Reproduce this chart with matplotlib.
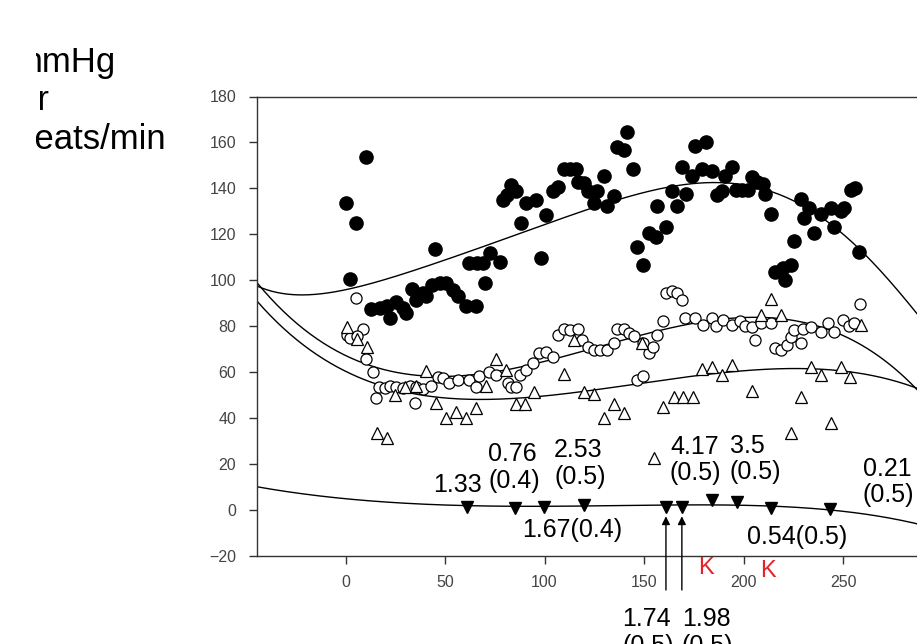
import numpy as np
import matplotlib.pyplot as plt
from matplotlib.transforms import Bbox

plt.rcParams['font.family'] = ['Liberation Sans', 'DejaVu Sans']

# systolic pressure, mmHg (filled circles)
sys_x = [0.3, 2.3, 5.3, 10.3, 13, 17.3, 20.6, 22.3, 25.6, 29, 30.6, 33.3, 35.6, 39,
         40.6, 43.3, 45, 47.3, 50.6, 54, 56.4, 60.6, 62, 65.6, 66, 69, 70, 72.5,
         77.5, 79, 81, 83, 85.6, 88, 90.6, 95.6, 98, 100.6, 104, 106.6, 110, 113,
         116, 117, 120, 121.7, 125, 126.6, 130, 131.6, 135, 136.6, 140, 141.6,
         144.5, 146.6, 149.6, 152.5, 155.8, 156.6, 160.8, 164, 166.6, 169, 171,
         174, 175.8, 179, 181, 184, 186.6, 189, 190.6, 194, 196, 199, 202, 204,
         207, 210, 211, 214, 215.6, 220, 221, 224, 225.6, 229, 230.6, 233, 235.6,
         239, 244, 245.6, 249, 250.6, 254, 256, 258]
sys_y = [133.5, 100.4, 125, 153.6, 87.4, 87.8, 88.6, 83.5, 90.7, 87.8, 85.7, 96, 91.4,
         94.4, 93, 98, 113.5, 98.7, 98.7, 95.8, 93, 88.6, 107.5, 88.6, 107.5, 107.5,
         98.7, 111.7, 108, 135, 137, 141.6, 138.7, 125, 133.5, 135, 109.5, 128.4,
         138.7, 140.5, 148.5, 148.5, 148.5, 143, 142.5, 138.7, 133.5, 138.7, 145.5,
         132.4, 136.5, 158.2, 156.5, 164.5, 148.5, 114.4, 106.7, 120.5, 119, 132.4,
         123.4, 138.7, 132.4, 149.5, 137.5, 145.5, 158.5, 148.5, 160.4, 147.4, 137,
         138.7, 145.5, 149.5, 139.4, 139.4, 139.4, 145, 143, 142, 137.5, 129, 103.4,
         105.3, 100, 106.7, 117.3, 135.5, 127, 131.4, 120.5, 129, 131.4, 123.4, 130,
         131.4, 139.4, 140, 112.5]

# diastolic pressure, mmHg (open circles)
dia_x = [5.3, 8.6, 0.6, 2.3, 5.6, 10.3, 13.6, 15.3, 16.6, 19.8, 22.3, 25.6, 29, 32.3,
         35.6, 39, 43.1, 34.8, 46.3, 49, 52.2, 56.5, 62, 65.3, 67, 72.2, 75.6, 81.5,
         83, 85.6, 87.5, 90.6, 94, 97.3, 100.6, 104, 106.6, 110, 113, 116.6, 119,
         121.6, 124.7, 128, 131.5, 135, 136.6, 140, 142.2, 144.7, 149.7, 152.3,
         154.7, 156.4, 159.7, 146.6, 149.7, 161, 164, 166.5, 169, 170.6, 175.6,
         179.8, 184, 186.4, 189.8, 194, 198, 200.6, 204, 206, 209, 214, 215.6, 219,
         221.6, 224, 225.6, 229, 229.8, 234, 239, 242.3, 245.6, 249.8, 253, 255.6,
         258.7]
dia_y = [92.5, 78.7, 76.2, 74.8, 75.8, 65.6, 60.2, 48.6, 53.5, 53, 54, 53.5, 53, 54,
         53.5, 52.5, 54, 46.4, 58, 57.5, 55.2, 56.6, 56.6, 53.7, 58.4, 60.2, 58.8,
         55.2, 53.7, 53.7, 58.8, 61, 63.9, 68.2, 69, 66.5, 76.2, 79, 78.4, 78.7, 74,
         71.1, 69.7, 69.7, 69.7, 72.6, 78.7, 79, 77.2, 75.8, 72.6, 68.2, 71.1, 76.2,
         82.4, 56.6, 58.4, 94.3, 95.5, 94.3, 91.4, 83.5, 83.5, 80.6, 83.5, 80.2, 82.7,
         80.6, 82.1, 80.2, 79.6, 74, 81.2, 81.5, 70.4, 69.7, 71.9, 75.2, 78.4, 72.6,
         79, 79.6, 77.7, 81.3, 77.7, 82.7, 80.1, 81.5, 89.5]

# heart rate, beats/min (open triangles)
hr_x = [0.6, 5.6, 10.6, 15.6, 20.6, 24.8, 29.7, 35.6, 40.6, 45.3, 50.6, 55.6, 60.3,
        65.6, 70.6, 75.6, 80.6, 85.6, 90.3, 94.7, 109.7, 114.7, 119.7, 124.7, 130,
        135, 140, 149, 154.8, 159.7, 164.8, 169.8, 174.8, 179, 184, 189, 194, 204,
        209, 214, 219, 224, 229, 234, 239, 244, 249, 253.6, 259]
hr_y = [79.8, 74.3, 70.8, 33.4, 31.2, 50, 53.7, 54, 60.7, 46.7, 39.9, 42.8, 39.9,
        44.3, 54, 65.6, 61, 46.2, 46.2, 51.5, 59.2, 74, 51.5, 50.5, 40, 46.2, 42.4,
        72.6, 22.8, 44.7, 49.1, 49.1, 49.1, 61.3, 62.4, 58.8, 63.1, 52, 84.9, 91.7,
        84.9, 33.7, 49.1, 62.1, 58.8, 37.8, 62.1, 58, 80.6]

# injections (filled down triangles) and their annotations
dose_x = [60.8, 85.3, 99.8, 119.8, 161, 169, 183.9, 196.9, 213.9, 243.6]
dose_y = [1.2, 0.7, 1.5, 2.3, 1.5, 1.5, 4.4, 3.6, 0.7, 0.3]
dose_text = ["1.33", "0.76\n(0.4)", "1.67(0.4)", "2.53\n(0.5)", "1.74\n(0.5)",
             "1.98\n(0.5)", "4.17\n(0.5)", "3.5\n(0.5)", "0.54(0.5)", "0.21\n(0.5)"]
text_x = [44, 71.6, 88.9, 104.8, 139, 169, 163, 193, 201.8, 260]
text_y = [10.9, 18.5, -8.7, 20.2, -42.2, -42.2, 21.8, 22.2, -11.8, 12.2]

# trend lines
sys_fit_x = [-44, -29, -9, 2.5, 27.5, 52.5, 72.5, 94, 119, 136, 161, 186, 206, 227.5,
             244, 258, 269, 282.5]
sys_fit_y = [97.2, 94.3, 94.3, 96, 103, 110, 114.6, 121.9, 130.6, 136.4, 140, 140.8,
             140, 135, 126.3, 112.5, 102.3, 91.4]
dia_fit_x = [-44, -23, -6, 10.6, 22.5, 35.8, 52.5, 72.5, 94, 119, 135.7, 172.5, 202.5,
             235.7, 249, 269, 285.7]
dia_fit_y = [97.2, 82.7, 71, 61.7, 58.8, 58, 58.8, 61, 63.9, 69, 73.3, 80.5, 82.7, 82,
             76.2, 66, 53.7]
hr_fit_x = [-44, -23, -6, 10.6, 27, 52, 77, 102.5, 135.7, 177, 219, 244, 269, 285.7]
hr_fit_y = [90, 74, 63.9, 55.2, 50.8, 49.3, 49.3, 49.8, 53, 58.3, 62.1, 61, 57.3, 53.7]
dose_fit_x = [-44, -20, 0, 25, 50, 100, 150, 200, 225, 244, 265, 286]
dose_fit_y = [10, 7, 5, 3, 2.2, 1.8, 2, 2, 1.2, 0.3, -2.5, -5.7]

fig = plt.figure(figsize=(9.17, 6.44), dpi=100)
ax = fig.add_axes([257 / 917, 88 / 644, 708 / 917, 459.5 / 644])

xs = np.linspace(-44.5, 290, 400)
for fx, fy, deg in [(sys_fit_x, sys_fit_y, 6), (dia_fit_x, dia_fit_y, 5),
                    (hr_fit_x, hr_fit_y, 5), (dose_fit_x, dose_fit_y, 5)]:
    coef = np.polyfit(fx, fy, deg)
    ax.plot(xs, np.polyval(coef, xs), color='k', lw=1, zorder=2)

ax.plot(sys_x, sys_y, 'o', ms=9.5, color='k', zorder=3)
ax.plot(dia_x, dia_y, 'o', ms=8, mfc='white', mec='k', mew=0.9, zorder=3)
ax.plot(hr_x, hr_y, '^', ms=8, mfc='white', mec='k', mew=0.9, zorder=3)
ax.plot(dose_x, dose_y, 'v', ms=8.5, color='k', zorder=3)

for i, (s, tx, ty) in enumerate(zip(dose_text, text_x, text_y)):
    if i in (4, 5):
        ax.annotate("", xy=(dose_x[i], -1.5), xytext=(dose_x[i], -36),
                    arrowprops=dict(arrowstyle='-|>', color='k', lw=1,
                                    mutation_scale=12), annotation_clip=False)
        ax.text(tx, ty, s, fontsize=18, ha='left', va='top',
                linespacing=1.15, clip_on=False)
    else:
        ax.text(tx, ty, s, fontsize=18, ha='left', va='center',
                linespacing=1.15, clip_on=False)

for kx, ky in [(181.2, -25.3), (212.3, -26.6)]:
    ax.text(kx, ky, "K", color='#e8202a', fontsize=17, ha='center', va='center',
            clip_on=False)

ax.set_xlim(-44.5, -44.5 + 708 / 1.99)
ax.set_ylim(-20, 180)
ax.set_xticks(np.arange(0, 301, 50))
ax.set_yticks(np.arange(-20, 181, 20))
ax.tick_params(direction='out', length=6, width=1, labelsize=11.5,
               labelcolor='#444444', color='#333333')
ax.tick_params(axis='x', pad=8)
ax.tick_params(axis='y', pad=9)
for sp in ax.spines.values():
    sp.set_color('#333333')
    sp.set_linewidth(1)

# units down the left side, cut at the panel edge
for s, xr, yb, xc in [("mmHg", 116, 72, 36), ("or", 50, 110, 40),
                      ("beats/min", 166, 149, 36)]:
    t = fig.text(xr / 917, 1 - yb / 644, s, fontsize=25, ha='right', va='baseline')
    t.set_clip_box(Bbox.from_extents(xc, 0, 917, 644))
    t.set_clip_on(True)

fig.savefig("out.png", dpi=100)
